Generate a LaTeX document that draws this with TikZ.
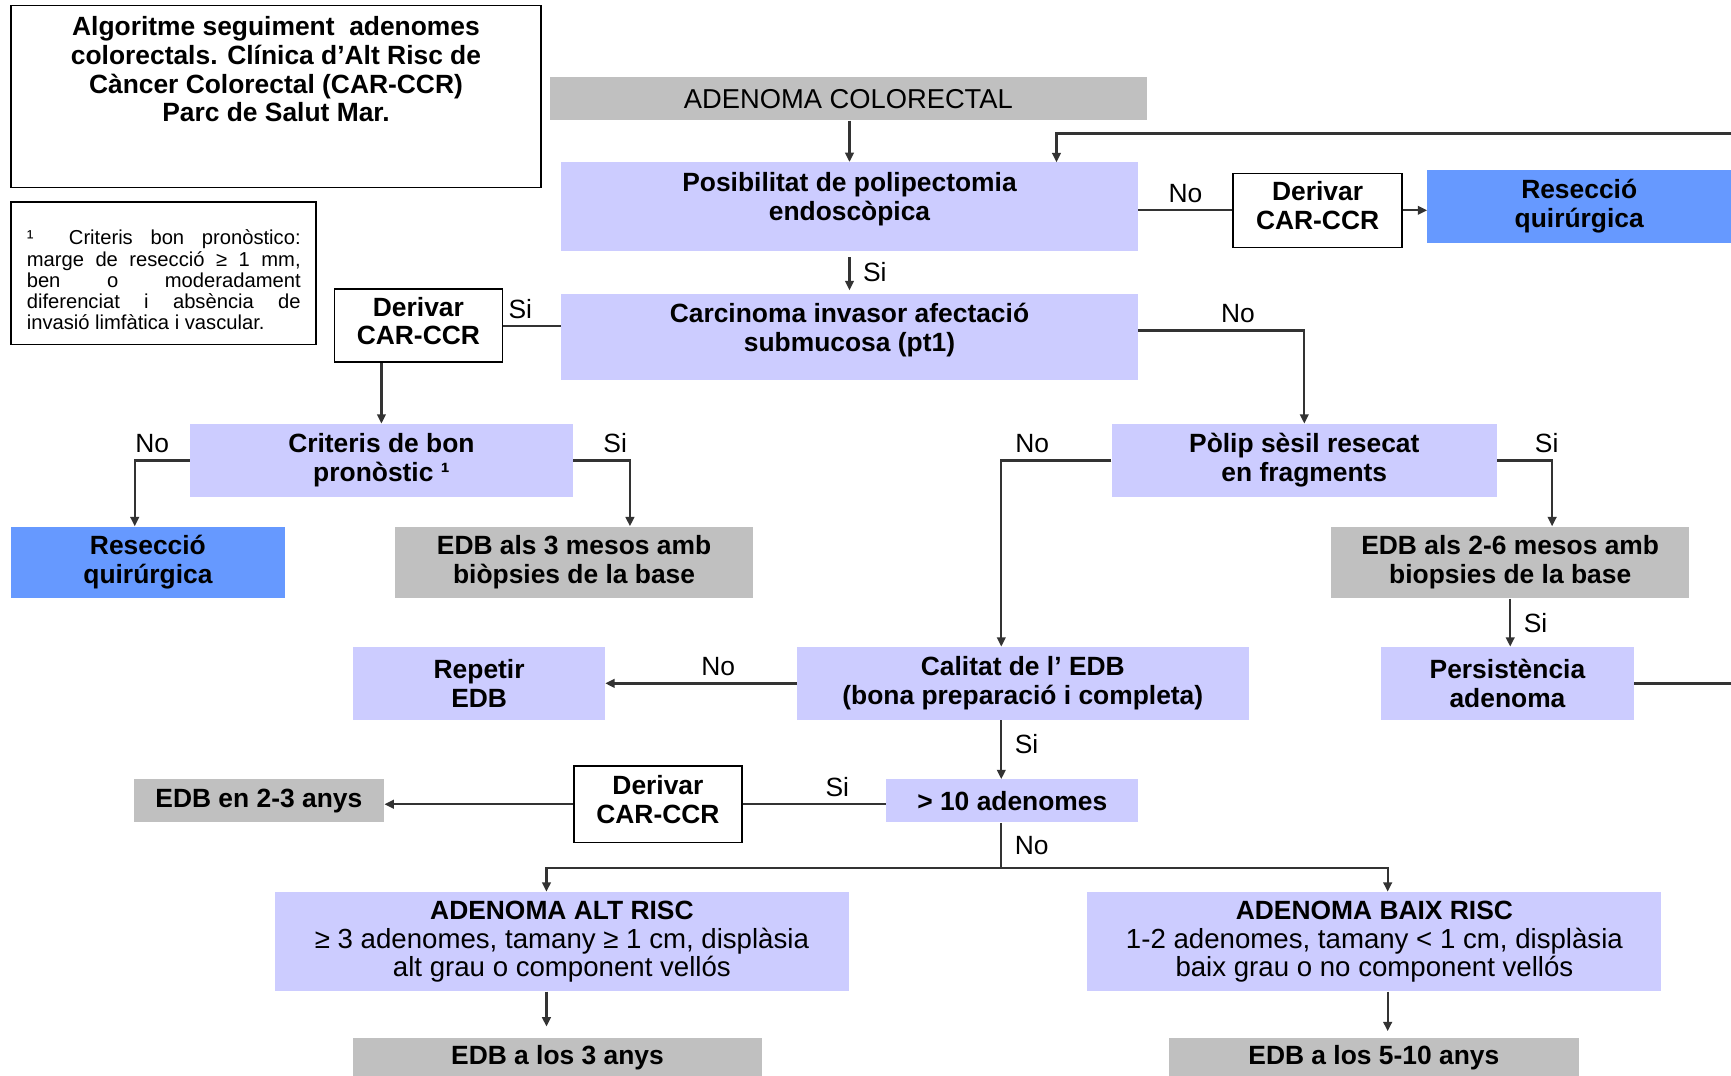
\documentclass[tikz,border=0pt]{standalone}
\usepackage{fontspec}
\setmainfont{Liberation Sans}
\usepackage{tikz}
\usetikzlibrary{positioning, arrows.meta}

\definecolor{lavbox}{HTML}{CCCCFF}
\definecolor{bluebox}{HTML}{6699FF}
\definecolor{greybox}{HTML}{C0C0C0}
\definecolor{linecol}{HTML}{333333}

\newcommand{\flowfont}{\fontsize{17}{18.5}\selectfont\bfseries}
\newcommand{\plainfont}{\fontsize{17}{18.5}\selectfont\mdseries}
\newcommand{\descfont}{\fontsize{17.8}{18.8}\selectfont\mdseries}
\newcommand{\notefont}{\fontsize{13}{13.7}\selectfont}

\begin{document}
\begin{tikzpicture}[
    x=0.025cm, y=-0.025cm,
    boxsize/.style 2 args={minimum width=#1*0.025cm, minimum height=#2*0.025cm},
    box/.style={inner sep=0pt, align=center, font=\flowfont},
    lav box/.style={box, fill=lavbox},
    blue box/.style={box, fill=bluebox},
    grey box/.style={box, fill=greybox},
    white box/.style={box, draw=black, line width=1pt, fill=white, text depth=6pt},
    frame/.style={draw=black, line width=1pt, inner sep=0pt},
    ln/.style={draw=linecol, line width=1.5pt},
    arr/.style={ln, -{Triangle[length=6pt, width=5.5pt]}},
    lbl/.style={font=\plainfont, inner sep=1pt}
]
\useasboundingbox (0,0) rectangle (1568,974);

% --- header and footnote ---
\node[frame, boxsize={480}{165}] (title) at (250,87.5) {};
\node[box, anchor=north] (titleT) at ([yshift=-7.5pt]title.north)
    {Algoritme seguiment \ adenomes\\colorectals. Clínica d’Alt Risc de\\Càncer Colorectal (CAR-CCR)\\Parc de Salut Mar.};

\node[frame, boxsize={276}{129}] (note) at (148,247.5) {};
\node[anchor=north west, inner sep=0pt, text width=6.2cm, align=justify, font=\notefont] (noteT) at (24,208)
    {¹ \ Criteris bon pronòstico:\linebreak marge de resecció ≥ 1 mm,\linebreak ben o moderadament\linebreak diferenciat i absència de\linebreak invasió limfàtica i vascular.};

% --- top row ---
\node[grey box, font=\fontsize{17.6}{18.5}\selectfont, boxsize={541}{39}] (adcol) at (768.5,89.5) {ADENOMA COLORECTAL};
\node[lav box, boxsize={523}{80}] (posib) at (769.5,187) {};
\node[box] (posibT) at ([yshift=4.5pt]posib.center) {Posibilitat de polipectomia\\endoscòpica};
\node[white box, boxsize={153}{67}] (der1) at (1193.5,190.5) {Derivar\\CAR-CCR};
\node[blue box, boxsize={275}{66}] (resec1) at (1430.5,187) {Resecció\\quirúrgica};

\node[lav box, boxsize={523}{78}] (carc) at (769.5,305) {};
\node[box] (carcT) at ([yshift=4.5pt]carc.center) {Carcinoma invasor afectació\\submucosa (pt1)};
\node[white box, boxsize={152}{66}] (der2) at (379,295) {Derivar\\CAR-CCR};

% --- middle rows ---
\node[lav box, boxsize={347}{66}] (crit) at (345.5,417) {Criteris de bon\\pronòstic ¹};
\node[blue box, boxsize={248}{65}] (resec2) at (134,509.5) {Resecció\\quirúrgica};
\node[grey box, boxsize={324}{65}] (edb3) at (520,509.5) {EDB als 3 mesos amb\\biòpsies de la base};

\node[lav box, boxsize={349}{66}] (polip) at (1181.5,417) {Pòlip sèsil resecat\\en fragments};
\node[grey box, boxsize={324}{65}] (edb26) at (1368,509.5) {EDB als 2-6 mesos amb\\biopsies de la base};
\node[lav box, boxsize={229}{66}] (pers) at (1365.5,619) {Persistència\\adenoma};

\node[lav box, boxsize={409}{66}] (calit) at (926.5,619) {Calitat de l’ EDB\\(bona preparació i completa)};
\node[lav box, boxsize={228}{66}] (repet) at (434,619) {Repetir\\EDB};

\node[lav box, boxsize={228}{39}] (gt10) at (917,725.5) {> 10 adenomes};
\node[white box, boxsize={152}{69}] (der3) at (596,728.5) {Derivar\\CAR-CCR};
\node[grey box, boxsize={227}{39}] (edb23) at (234.5,725.5) {EDB en 2-3 anys};

% --- bottom rows ---
\node[lav box, boxsize={520}{90}] (alt) at (509,853)
    {ADENOMA ALT RISC\\{\descfont ≥ 3 adenomes, tamany ≥ 1 cm, displàsia}\\{\descfont alt grau o component vellós}};
\node[lav box, boxsize={520}{90}] (baix) at (1245,853)
    {ADENOMA BAIX RISC\\{\descfont 1-2 adenomes, tamany < 1 cm, displàsia}\\{\descfont baix grau o no component vellós}};
\node[grey box, boxsize={370}{37}] (edb3a) at (505,958.5) {EDB a los 3 anys};
\node[grey box, boxsize={371}{37}] (edb510) at (1244.5,958.5) {EDB a los 5-10 anys};

% --- side coordinates ---
\coordinate (rin) at (1568,121);
\coordinate (rout) at (1568,619);
\coordinate (back) at (957,147);
\coordinate (colA) at (907,0);
\coordinate (colB) at (495,0);
\coordinate (colC) at (1257,0);
\coordinate (split) at (907,786);

% --- connectors ---
\draw[arr] (posib.north |- adcol.south) -- (posib.north);
\draw[arr] (rin) -| (back);
\draw[ln] (posib.east |- der1.west) -- node[lbl, above=3pt] {No} (der1.west);
\draw[arr] (der1.east) -- (der1.east -| resec1.west);
\draw[arr, shorten <=4pt, shorten >=2pt] (posib.south) -- node[lbl, right=7pt] {Si} (carc.north);

\draw[ln] (der2.east) -- node[lbl, above=3pt, pos=0.3] {Si} (der2.east -| carc.west);
\draw[arr] (der2.south -| crit.north) -- (crit.north);
\draw[arr] ([yshift=4pt]carc.east) -| node[lbl, above=3pt, pos=0.3] {No} (polip.north);

\draw[arr] (crit.west) -| node[lbl, above=3pt, pos=0.34] {No} ([xshift=-8.5pt]resec2.north);
\draw[arr] (crit.east) -| node[lbl, above=3pt, pos=0.37] {Si} ([xshift=36pt]edb3.north);

\draw[arr] (polip.west) -| node[lbl, above=3pt, pos=0.36] {No} (calit.north -| colA);
\draw[arr] (polip.east) -| node[lbl, above=3pt, pos=0.45] {Si} ([xshift=27pt]edb26.north);
\draw[arr] (edb26.south) -- node[lbl, right=7pt] {Si} (edb26.south |- pers.north);
\draw[ln] (pers.east) -- (rout);

\draw[arr] (calit.west) -- node[lbl, above=3pt, pos=0.41] {No} (repet.east);
\draw[arr] (calit.south -| colA) -- node[lbl, right=7pt, pos=0.4] {Si} (gt10.north -| colA);
\draw[ln] (der3.east) -- node[lbl, above=3pt, pos=0.66] {Si} (der3.east -| gt10.west);
\draw[arr] (der3.west) -- (der3.west -| edb23.east);

\draw[ln] (gt10.south -| colA) -- node[lbl, right=7pt] {No} (split);
\draw[arr] (split) -| (alt.north -| colB);
\draw[arr] (split) -| (baix.north -| colC);
\draw[arr, shorten >=7pt] (alt.south -| colB) -- (edb3a.north -| colB);
\draw[arr, shorten >=4pt] (baix.south -| colC) -- (edb510.north -| colC);

\end{tikzpicture}
\end{document}
